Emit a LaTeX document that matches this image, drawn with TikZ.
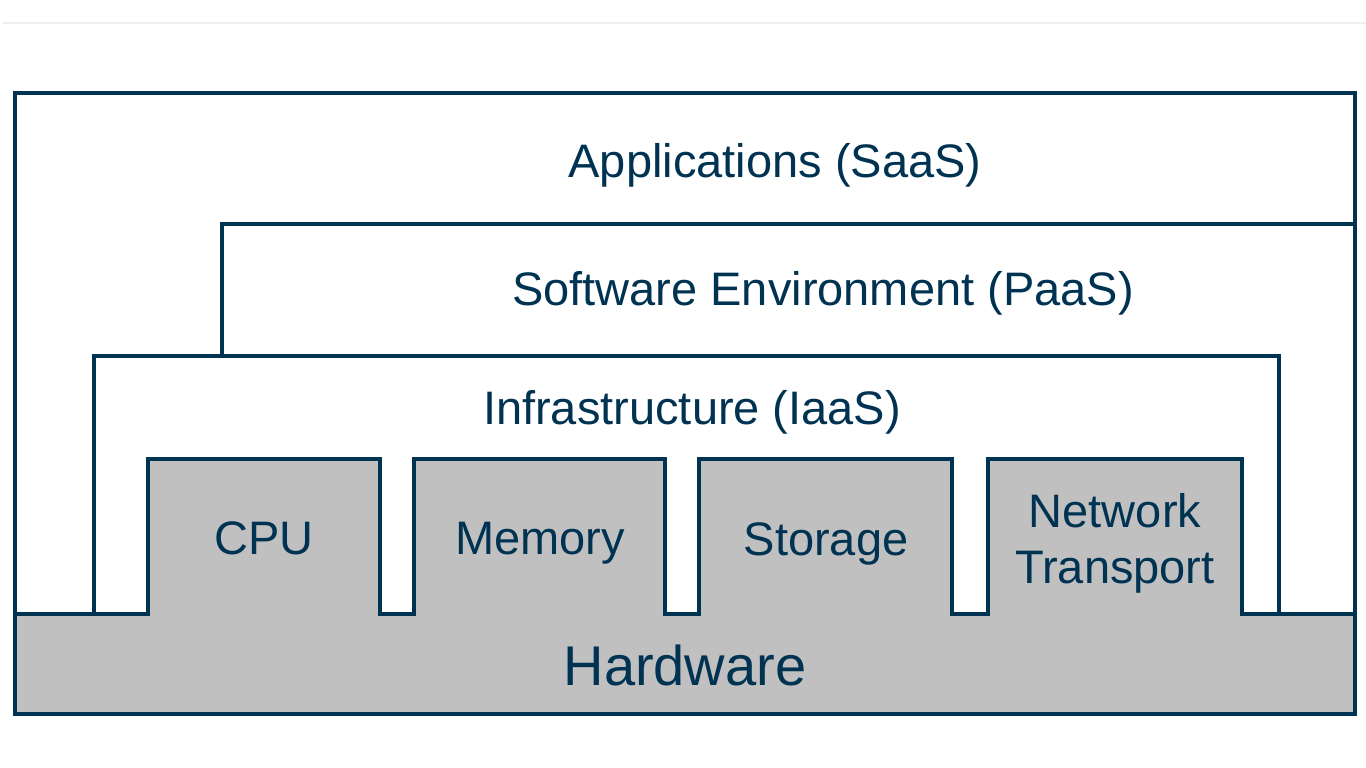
\documentclass[tikz,border=0pt]{standalone}
\usepackage{fontspec}
\setmainfont{Liberation Sans}
\definecolor{navy}{RGB}{0,50,82}
\definecolor{hwgray}{RGB}{192,192,192}
\definecolor{topline}{RGB}{238,238,238}
\begin{document}
\begin{tikzpicture}[x=1pt,y=-1pt,
  layer/.style={draw=navy,line width=4pt,fill=white,line join=miter},
  hw/.style={draw=navy,line width=4pt,fill=hwgray,line join=miter},
  lbl/.style={text=navy,font=\fontsize{47}{56}\selectfont,inner sep=0pt,anchor=base,align=center},
  biglbl/.style={text=navy,font=\fontsize{56}{64}\selectfont,inner sep=0pt,anchor=base}]
\useasboundingbox[fill=white] (0,0) rectangle (1366,768);
\draw[topline,line width=1.5pt] (3,23) -- (1366,23);
% layers
\draw[layer] (15,93) rectangle (1355,714);
\draw[layer] (222,224) rectangle (1355,614);
\draw[layer] (94,356) rectangle (1279,614);
% hardware with resource blocks
\draw[hw] (15,614) -- (148,614) -- (148,459) -- (380,459) -- (380,614)
  -- (414,614) -- (414,459) -- (665,459) -- (665,614)
  -- (699,614) -- (699,459) -- (952,459) -- (952,614)
  -- (988,614) -- (988,459) -- (1242,459) -- (1242,614)
  -- (1355,614) -- (1355,714) -- (15,714) -- cycle;
% labels
\node[lbl] (saas) at (775,177) {Applications (SaaS)};
\node[lbl] (paas) at (823,305) {Software Environment (PaaS)};
\node[lbl] (iaas) at (692,424) {Infrastructure (IaaS)};
\node[lbl] (cpu) at (264,554) {CPU};
\node[lbl] (mem) at (540,554) {Memory};
\node[lbl] (sto) at (826,555) {Storage};
\node[lbl,anchor=north] (net) at (1115,493) {Network\\Transport};
\node[biglbl] (hwl) at (685,685) {Hardware};
\end{tikzpicture}
\end{document}
